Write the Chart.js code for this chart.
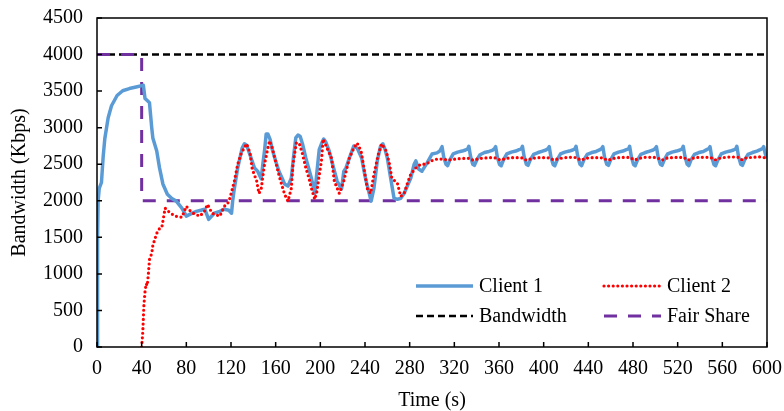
<!DOCTYPE html>
<html>
<head>
<meta charset="utf-8">
<script src="https://cdn.jsdelivr.net/npm/chart.js@4.4.0/dist/chart.umd.min.js"></script>
<style>
  html, body { margin: 0; padding: 0; background: #fff; }
  #wrap { width: 784px; height: 411px; position: relative; }
</style>
</head>
<body>
<div id="wrap"><canvas id="chart"></canvas></div>
<script>
// time (s) and measured throughput (Kbps) for each client
var c1Time = [0, 0.5, 1, 2, 4, 5.5, 7, 10, 13, 18, 23, 29, 36, 40, 41.5, 43, 45, 47, 49, 50, 53.5, 56, 59, 63, 67, 71, 76, 80, 84, 89, 93, 96.5, 100, 105, 110, 114, 118, 120.5,
  121.5, 123, 126, 130, 132, 134, 138, 141, 144, 147, 148.5, 150, 151.5, 153, 155, 157, 160, 163, 166, 168, 171, 174, 176, 178, 180, 182, 184, 187, 190, 192, 195, 197, 199,
  201, 203, 205, 208, 211, 215, 219, 221, 223, 226, 230, 233, 237, 239, 241, 243, 245.5, 248, 251, 254, 256, 258, 260, 263, 266, 269, 272, 275, 277, 281, 284, 285.5, 288,
  291, 295.5, 300, 304.5, 307,
  309, 310.5, 312.5, 314, 316, 319, 323, 327, 330, 332,
  333, 334.5, 336.5, 338, 340, 343, 347, 351, 354, 356,
  357, 358.5, 360.5, 362, 364, 367, 371, 375, 378, 380,
  381, 382.5, 384.5, 386, 388, 391, 395, 399, 402, 404,
  405, 406.5, 408.5, 410, 412, 415, 419, 423, 426, 428,
  429, 430.5, 432.5, 434, 436, 439, 443, 447, 450, 452,
  453, 454.5, 456.5, 458, 460, 463, 467, 471, 474, 476,
  477, 478.5, 480.5, 482, 484, 487, 491, 495, 498, 500,
  501, 502.5, 504.5, 506, 508, 511, 515, 519, 522, 524,
  525, 526.5, 528.5, 530, 532, 535, 539, 543, 546, 548,
  549, 550.5, 552.5, 554, 556, 559, 563, 567, 570, 572,
  573, 574.5, 576.5, 578, 580, 583, 587, 591, 594, 596,
  597, 598.5, 600];
var c1Value = [0, 1500, 2000, 2170, 2250, 2600, 2850, 3135, 3300, 3440, 3505, 3535, 3560, 3575, 3580, 3400, 3370, 3340, 3000, 2860, 2680, 2450, 2230, 2090, 2030, 1995, 1900, 1790, 1820, 1855, 1870, 1885, 1745, 1830, 1855, 1885, 1870, 1830,
  2000, 2170, 2450, 2720, 2780, 2760, 2585, 2450, 2400, 2300, 2500, 2680, 2915, 2915, 2840, 2700, 2545, 2400, 2300, 2230, 2200, 2310, 2600, 2860, 2900, 2880, 2780, 2585, 2420, 2310, 2100, 2400, 2700,
  2780, 2845, 2800, 2680, 2500, 2270, 2160, 2400, 2450, 2585, 2750, 2720, 2585, 2420, 2270, 2150, 1995, 2170, 2545, 2750, 2780, 2700, 2585, 2310, 2035, 2020, 2035, 2100, 2170, 2310, 2500, 2545, 2435,
  2405, 2515, 2640, 2655, 2680,
  2740, 2600, 2500, 2480, 2560, 2640, 2665, 2680, 2695, 2710,
  2745, 2610, 2500, 2485, 2555, 2630, 2660, 2675, 2690, 2715,
  2740, 2600, 2495, 2480, 2560, 2640, 2665, 2680, 2700, 2710,
  2745, 2605, 2500, 2485, 2560, 2635, 2660, 2680, 2695, 2715,
  2740, 2600, 2495, 2480, 2555, 2640, 2665, 2680, 2695, 2710,
  2745, 2610, 2500, 2480, 2560, 2635, 2660, 2675, 2695, 2715,
  2740, 2600, 2500, 2485, 2560, 2640, 2665, 2680, 2700, 2710,
  2745, 2605, 2495, 2480, 2555, 2635, 2660, 2680, 2695, 2715,
  2740, 2600, 2500, 2485, 2560, 2640, 2665, 2680, 2695, 2710,
  2745, 2610, 2500, 2480, 2560, 2635, 2660, 2675, 2700, 2715,
  2740, 2600, 2495, 2480, 2555, 2640, 2665, 2680, 2695, 2710,
  2745, 2605, 2500, 2485, 2560, 2635, 2660, 2680, 2700, 2715,
  2740, 2640, 2580];

var c2Time = [40, 41, 42, 43, 44, 45, 46, 47, 49, 50, 53.5, 56, 58, 59, 61, 63, 65, 70, 76, 80, 83, 86, 92, 96, 99, 103, 110, 114, 117, 119, 121, 123, 126, 129, 131, 134, 137, 139,
  143, 145, 147, 150, 153, 154.5, 157, 160.5, 163, 165, 168, 171, 174, 175.5, 178.5, 181, 184, 187, 190, 192, 195, 197, 199, 201, 202.5, 206, 210, 212.5, 217, 221, 226,
  230, 233, 236.5, 239, 242, 245, 248, 252, 255, 259, 262, 264, 269, 272, 275, 278, 281, 285.5, 290, 294.6, 299, 304.5,
  311, 314, 318, 324, 330,
  334, 336, 338, 341, 347, 353,
  358, 360, 362, 365, 371, 377,
  382, 384, 386, 389, 395, 401,
  406, 408, 410, 413, 419, 425,
  430, 432, 434, 437, 443, 449,
  454, 456, 458, 461, 467, 473,
  478, 480, 482, 485, 491, 497,
  502, 504, 506, 509, 515, 521,
  526, 528, 530, 533, 539, 545,
  550, 552, 554, 557, 563, 569,
  574, 576, 578, 581, 587, 593,
  598, 600];
var c2Value = [0, 206, 577, 756, 866, 840, 1000, 1196, 1280, 1390, 1555, 1620, 1636, 1720, 1900, 1870, 1840, 1790, 1775, 1925, 1870, 1830, 1790, 1850, 1950, 1830, 1790, 1925, 1960, 2035, 2150, 2270, 2500, 2640, 2700, 2780, 2655, 2435,
  2270, 2100, 2160, 2500, 2720, 2820, 2720, 2500, 2350, 2240, 2090, 1995, 2170, 2500, 2790, 2790, 2640, 2450, 2300, 2170, 2020, 2130, 2350, 2545, 2845, 2720, 2585, 2270, 2100, 2270, 2585,
  2720, 2790, 2680, 2450, 2170, 2100, 2365, 2640, 2780, 2680, 2500, 2310, 2240, 2060, 2100, 2240, 2365, 2450, 2500, 2500, 2545, 2570,
  2570, 2555, 2565, 2575, 2580,
  2580, 2560, 2555, 2575, 2585, 2590,
  2585, 2565, 2555, 2575, 2590, 2590,
  2585, 2560, 2555, 2580, 2590, 2590,
  2585, 2565, 2560, 2575, 2590, 2595,
  2590, 2565, 2555, 2580, 2590, 2590,
  2585, 2560, 2555, 2575, 2590, 2595,
  2590, 2565, 2560, 2580, 2595, 2595,
  2590, 2565, 2555, 2580, 2590, 2595,
  2590, 2560, 2560, 2580, 2595, 2595,
  2590, 2565, 2560, 2580, 2595, 2600,
  2595, 2565, 2560, 2585, 2595, 2600,
  2590, 2595];

// link capacity and the per-client fair share
var bwTime = [0, 600];
var bwValue = [4000, 4000];
var fairTime = [0, 40, 40, 600];
var fairValue = [4000, 4000, 2000, 2000];

var xTicks = [0, 40, 80, 120, 160, 200, 240, 280, 320, 360, 400, 440, 480, 520, 560, 600];
var yTicks = [0, 500, 1000, 1500, 2000, 2500, 3000, 3500, 4000, 4500];

function pts(xs, ys) {
  return xs.map(function (x, i) { return { x: x, y: ys[i] }; });
}

var serif = "'Liberation Serif', 'Times New Roman', serif";

// box around the plot and short tick marks pointing inwards
var framePlugin = {
  id: 'frame',
  afterDatasetsDraw: function (chart) {
    var ctx = chart.ctx, a = chart.chartArea;
    var xs = chart.scales.x, ys = chart.scales.y;
    ctx.save();
    ctx.strokeStyle = '#000';
    ctx.lineWidth = 1.5;
    ctx.strokeRect(a.left, a.top, a.right - a.left, a.bottom - a.top);
    ctx.beginPath();
    xTicks.forEach(function (v) {
      var px = xs.getPixelForValue(v);
      ctx.moveTo(px, a.bottom);
      ctx.lineTo(px, a.bottom - 5);
    });
    yTicks.forEach(function (v) {
      var py = ys.getPixelForValue(v);
      ctx.moveTo(a.left, py);
      ctx.lineTo(a.left + 5, py);
    });
    ctx.stroke();
    ctx.restore();
  }
};

// two-column legend inside the lower right corner of the plot
var legendPlugin = {
  id: 'innerLegend',
  afterDraw: function (chart) {
    var ctx = chart.ctx, a = chart.chartArea;
    var cols = [a.left + 319, a.left + 507];
    var rows = [a.bottom - 61, a.bottom - 31];
    ctx.save();
    ctx.font = '20px ' + serif;
    ctx.textBaseline = 'middle';
    ctx.fillStyle = '#000';
    chart.data.datasets.forEach(function (ds, i) {
      var x = cols[i % 2], y = rows[Math.floor(i / 2)];
      ctx.save();
      ctx.strokeStyle = ds.borderColor;
      ctx.lineWidth = ds.borderWidth;
      ctx.lineCap = ds.borderCapStyle || 'butt';
      ctx.setLineDash(ds.borderDash || []);
      ctx.beginPath();
      ctx.moveTo(x, y);
      ctx.lineTo(x + 57, y);
      ctx.stroke();
      ctx.restore();
      ctx.fillText(ds.label, x + 63, y + 1);
    });
    ctx.restore();
  }
};

new Chart(document.getElementById('chart'), {
  type: 'line',
  data: {
    datasets: [
      { label: 'Client 1', data: pts(c1Time, c1Value), borderColor: '#5B9BD5', borderWidth: 3.5, borderJoinStyle: 'round', order: 1 },
      { label: 'Client 2', data: pts(c2Time, c2Value), borderColor: '#FF0000', borderWidth: 3.2, borderDash: [0, 4.6], borderCapStyle: 'round', order: 0 },
      { label: 'Bandwidth', data: pts(bwTime, bwValue), borderColor: '#000000', borderWidth: 2.5, borderDash: [7, 4], order: 3 },
      { label: 'Fair Share', data: pts(fairTime, fairValue), borderColor: '#7030A0', borderWidth: 3, borderDash: [13, 11], order: 2 }
    ]
  },
  options: {
    responsive: true,
    maintainAspectRatio: false,
    animation: false,
    parsing: false,
    layout: { padding: { top: 12, right: 10, left: 0, bottom: 0 } },
    elements: { point: { radius: 0 }, line: { tension: 0, fill: false } },
    plugins: { legend: { display: false }, tooltip: { enabled: false } },
    scales: {
      x: {
        type: 'linear', min: 0, max: 600,
        afterBuildTicks: function (s) { s.ticks = xTicks.map(function (v) { return { value: v }; }); },
        afterFit: function (s) { s.height = 64; },
        grid: { display: false },
        border: { display: false },
        ticks: { color: '#000', font: { family: serif, size: 20 }, padding: 2, maxRotation: 0, autoSkip: false },
        title: { display: true, text: 'Time (s)', color: '#000', font: { family: serif, size: 20 }, padding: { top: 0, bottom: -2 } }
      },
      y: {
        min: 0, max: 4500,
        afterBuildTicks: function (s) { s.ticks = yTicks.map(function (v) { return { value: v }; }); },
        afterFit: function (s) { s.width = 97; },
        grid: { display: false },
        border: { display: false },
        ticks: {
          color: '#000', font: { family: serif, size: 20 }, padding: 6,
          callback: function (v) { return String(v); }
        },
        title: { display: true, text: 'Bandwidth (Kbps)', color: '#000', font: { family: serif, size: 20 }, padding: { top: 8, bottom: 0 } }
      }
    }
  },
  plugins: [framePlugin, legendPlugin]
});
</script>
</body>
</html>
